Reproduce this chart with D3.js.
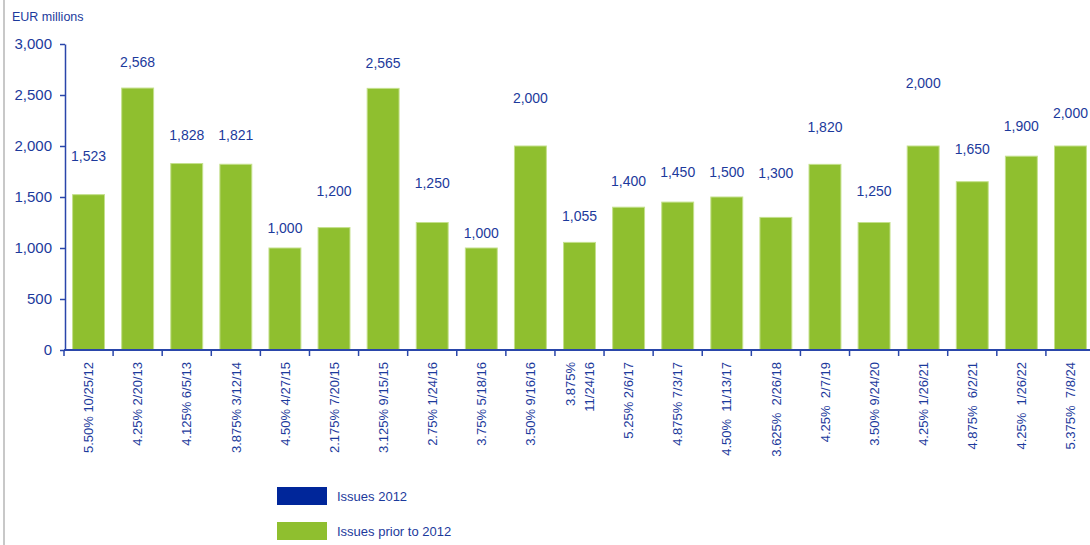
<!DOCTYPE html>
<html>
<head>
<meta charset="utf-8">
<script src="https://cdn.jsdelivr.net/npm/d3@7"></script>
<style>
  body { margin: 0; background: #fff; }
  svg { display: block; font-family: "Liberation Sans", Arial, sans-serif; }
</style>
</head>
<body>
<div id="chart"></div>
<script>
// bond issues (coupon + maturity)
const categories = [
  "5.50% 10/25/12", "4.25% 2/20/13", "4.125% 6/5/13", "3.875% 3/12/14",
  "4.50% 4/27/15", "2.175% 7/20/15", "3.125% 9/15/15", "2.75% 1/24/16",
  "3.75% 5/18/16", "3.50% 9/16/16", "3.875%\n11/24/16", "5.25% 2/6/17",
  "4.875% 7/3/17", "4.50%  11/13/17", "3.625%  2/26/18", "4.25%  2/7/19",
  "3.50% 9/24/20", "4.25% 1/26/21", "4.875%  6/2/21", "4.25%  1/26/22",
  "5.375%  7/8/24"
];
const amounts = [
  1523, 2568, 1828, 1821, 1000, 1200, 2565, 1250, 1000, 2000, 1055,
  1400, 1450, 1500, 1300, 1820, 1250, 2000, 1650, 1900, 2000
];
// level (EUR millions) where each value label sits in the original
const labelAt = [
  1900, 2825, 2110, 2110, 1195, 1560, 2815, 1635, 1145, 2470, 1315,
  1655, 1745, 1745, 1735, 2185, 1560, 2620, 1970, 2195, 2325
];
const yTicks = [0, 500, 1000, 1500, 2000, 2500, 3000];
const legendItems = ["Issues 2012", "Issues prior to 2012"];

const W = 1090, H = 545;
const textColor = "#1c3a9c";
const axisColor = "#2a46aa";
const green = "#8fbf2f";
const blue = "#00269a";

const svg = d3.select("#chart").append("svg")
  .attr("width", W).attr("height", H);

// left frame line
svg.append("line")
  .attr("x1", 4).attr("x2", 4).attr("y1", 0).attr("y2", H)
  .attr("stroke", "#c8c8c8").attr("stroke-width", 2);

const x = d3.scaleBand()
  .domain(categories)
  .range([64, 1095])
  .paddingInner(0.35)
  .paddingOuter(0.175);

const y = d3.scaleLinear().domain([0, 3000]).range([350, 44]);

// y axis
const yAxis = svg.append("g")
  .attr("transform", "translate(65,0)")
  .call(d3.axisLeft(y).tickValues(yTicks).tickSize(5).tickSizeOuter(0)
    .tickPadding(8).tickFormat(d3.format(",")));
yAxis.select(".domain").attr("stroke", axisColor).attr("stroke-width", 1.5);
yAxis.selectAll(".tick line").attr("stroke", axisColor).attr("stroke-width", 1.5);
yAxis.selectAll(".tick text")
  .attr("fill", textColor).style("font-size", "15px");

svg.append("text")
  .attr("x", 12).attr("y", 21)
  .attr("fill", textColor).style("font-size", "12.5px")
  .text("EUR millions");

// bars
svg.selectAll(".bar")
  .data(amounts)
  .join("rect")
  .attr("class", "bar")
  .attr("x", (d, i) => x(categories[i]))
  .attr("y", d => y(d))
  .attr("width", x.bandwidth())
  .attr("height", d => y(0) - y(d))
  .attr("fill", green)
  .attr("stroke", "#c4e08c")
  .attr("stroke-width", 1);

// value labels
svg.selectAll(".val")
  .data(amounts)
  .join("text")
  .attr("class", "val")
  .attr("x", (d, i) => x(categories[i]) + x.bandwidth() / 2)
  .attr("y", (d, i) => y(labelAt[i]))
  .attr("dy", "0.36em")
  .attr("text-anchor", "middle")
  .attr("fill", textColor)
  .style("font-size", "14px")
  .text(d => d3.format(",")(d));

// x axis line + boundary ticks
const gap = (x.step() - x.bandwidth()) / 2;
svg.append("line")
  .attr("x1", x.range()[0]).attr("x2", x.range()[1])
  .attr("y1", y(0)).attr("y2", y(0))
  .attr("stroke", axisColor).attr("stroke-width", 2);
const bounds = categories.map(c => x(c) - gap);
svg.selectAll(".xtick")
  .data(bounds)
  .join("line")
  .attr("class", "xtick")
  .attr("x1", d => d).attr("x2", d => d)
  .attr("y1", y(0)).attr("y2", y(0) + 6)
  .attr("stroke", axisColor).attr("stroke-width", 1.5);

// rotated category labels
const xl = svg.selectAll(".xl")
  .data(categories)
  .join("g")
  .attr("class", "xl")
  .attr("transform", d => `translate(${x(d) + x.bandwidth() / 2},362) rotate(-90)`);
xl.each(function (d) {
  const lines = d.split("\n");
  const g = d3.select(this);
  lines.forEach((t, k) => {
    g.append("text")
      .attr("x", 0)
      .attr("y", (k - (lines.length - 1) / 2) * 19)
      .attr("dy", "0.36em")
      .attr("text-anchor", "end")
      .attr("fill", textColor)
      .style("font-size", "13px")
      .style("white-space", "pre")
      .text(t);
  });
});

// legend
const legend = svg.selectAll(".lg")
  .data(legendItems)
  .join("g")
  .attr("class", "lg")
  .attr("transform", (d, i) => `translate(277,${487 + i * 35})`);
legend.append("rect")
  .attr("width", 50).attr("height", 18)
  .attr("fill", (d, i) => i === 0 ? blue : green);
legend.append("text")
  .attr("x", 60).attr("y", 9).attr("dy", "0.36em")
  .attr("fill", textColor).style("font-size", "13px")
  .text(d => d);
</script>
</body>
</html>
